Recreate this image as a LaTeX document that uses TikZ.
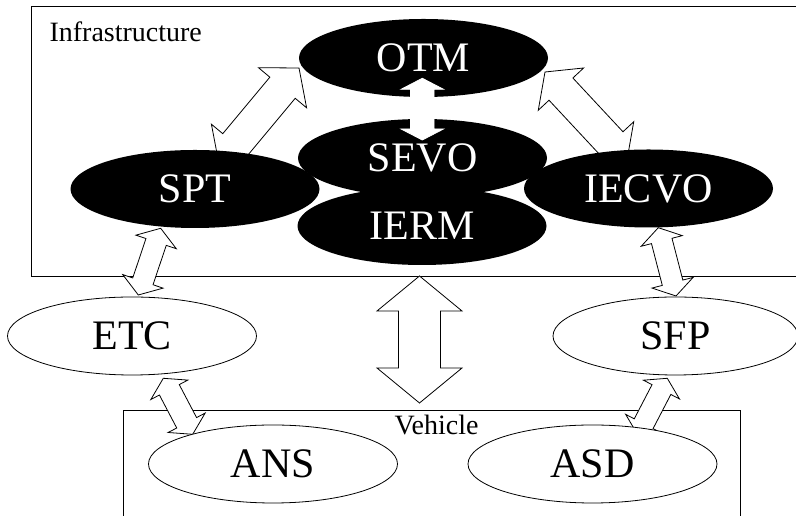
\documentclass[tikz,border=0pt]{standalone}
\usepackage{fontspec}
\setmainfont{Liberation Serif}
\usetikzlibrary{shapes.geometric,calc,backgrounds}
\tikzset{
  big/.style={font=\fontsize{42}{48}\selectfont},
  lbl/.style={font=\fontsize{28}{32}\selectfont},
  blk/.style={ellipse, fill=black, text=white, inner sep=0pt,
    minimum width=249pt, minimum height=78pt, big},
  wht/.style={ellipse, draw=black, fill=white, line width=0.8pt, inner sep=0pt,
    minimum width=249pt, minimum height=78pt, big},
  barrow/.style={draw=black, fill=white, line width=0.8pt, line join=miter},
  frame/.style={line width=0.8pt},
}
% block double arrow: ends #2 #3, half shaft #4, half head #5, head length #6
\newcommand{\blockarrow}[6][]{%
  \draw[barrow,#1] (#2)
    -- ($(#2)!#6!(#3)!#5!90:(#3)$) -- ($(#2)!#6!(#3)!#4!90:(#3)$)
    -- ($(#3)!#6!(#2)!#4!-90:(#2)$) -- ($(#3)!#6!(#2)!#5!-90:(#2)$)
    -- (#3)
    -- ($(#3)!#6!(#2)!#5!90:(#2)$) -- ($(#3)!#6!(#2)!#4!90:(#2)$)
    -- ($(#2)!#6!(#3)!#4!-90:(#3)$) -- ($(#2)!#6!(#3)!#5!-90:(#3)$)
    -- cycle;}

\begin{document}
\begin{tikzpicture}[x=1pt, y=1pt]
  \useasboundingbox (0,0) rectangle (796,516);
  % infrastructure side
  \node[blk] (otm)   at (423.5,458)   {OTM};
  \node[blk] (sevo)  at (422.5,358)   {SEVO};
  \node[blk] (ierm)  at (422,290)     {IERM};
  \node[blk] (spt)   at (195,327)     {SPT};
  \node[blk] (iecvo) at (648.5,327.5) {IECVO};
  % road side and vehicle side
  \node[wht] (etc) at (132,180) {ETC};
  \node[wht, minimum width=245pt] (sfp) at (675.5,180) {SFP};
  \node[wht] (ans) at (273,52)  {ANS};
  \node[wht] (asd) at (592.5,52) {ASD};
  \node[lbl, anchor=base west] (infra) at (46,474) {Infrastructure};
  \node[lbl, anchor=base] (veh) at (436.5,81) {Vehicle};
  % arrow ends
  \coordinate (spt-otm)   at ($(spt)+(24,25)$);
  \coordinate (otm-spt)   at ($(otm)+(-124.5,-10)$);
  \coordinate (otm-iecvo) at ($(otm)+(121.5,-14)$);
  \coordinate (iecvo-otm) at ($(iecvo)+(-21.5,28.5)$);
  \coordinate (ierm-veh)  at ($(ierm)+(-2.5,-50)$);
  \coordinate (veh-ierm)  at ($(veh.base)+(-17,32)$);
  \coordinate (spt-etc)   at ($(spt)+(-34.3,-39.3)$);
  \coordinate (etc-spt)   at ($(etc)+(6.3,41)$);
  \coordinate (iecvo-sfp) at ($(iecvo)+(9.8,-39.2)$);
  \coordinate (sfp-iecvo) at ($(sfp)+(0.5,40)$);
  \coordinate (etc-ans)   at ($(etc)+(31.3,-42.3)$);
  \coordinate (ans-etc)   at ($(ans)+(-80.3,29.7)$);
  \coordinate (sfp-asd)   at ($(sfp)+(-8.2,-42.3)$);
  \coordinate (asd-sfp)   at ($(asd)+(45.3,29)$);
  \coordinate (otm-sevo)  at ($(otm)+(-1.2,-20.3)$);
  \coordinate (sevo-otm)  at ($(sevo)+(-0.2,18)$);
  \begin{scope}[on background layer]
    \draw[frame] (796,510) -| (31.5,240) -- (796,240);
    \draw[frame] (123,0) |- (740.7,105.3) -- (740.7,0);
    \blockarrow{spt-otm}{otm-spt}{16.5pt}{31.3pt}{25.7pt}
    \blockarrow{otm-iecvo}{iecvo-otm}{16.3pt}{31pt}{23.4pt}
    \blockarrow{ierm-veh}{veh-ierm}{21pt}{42.5pt}{35pt}
    \blockarrow{spt-etc}{etc-spt}{10.7pt}{21.3pt}{14.4pt}
    \blockarrow{iecvo-sfp}{sfp-iecvo}{10.6pt}{21.2pt}{13.7pt}
    \blockarrow{etc-ans}{ans-etc}{11.2pt}{20.9pt}{13pt}
    \blockarrow{sfp-asd}{asd-sfp}{10.6pt}{20.3pt}{12.7pt}
  \end{scope}
  \blockarrow[draw=white]{otm-sevo}{sevo-otm}{11.7pt}{21.2pt}{11pt}
\end{tikzpicture}
\end{document}
